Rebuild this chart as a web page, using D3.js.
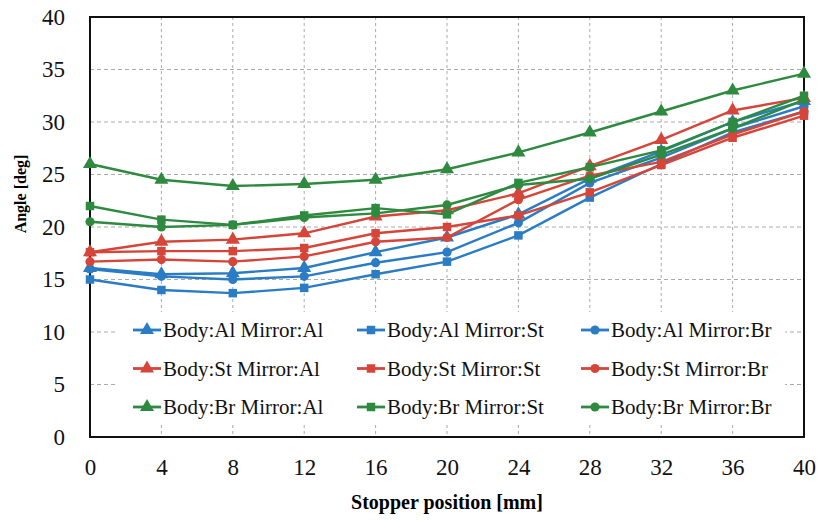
<!DOCTYPE html>
<html>
<head>
<meta charset="utf-8">
<script src="https://cdn.jsdelivr.net/npm/d3@7"></script>
<style>
  body { margin: 0; background: #fff; }
  text { font-family: "Liberation Serif", "Times New Roman", serif; }
</style>
</head>
<body>
<svg id="chart" width="819" height="522"></svg>
<script>
// stopper positions (mm)
var positions = [0, 4, 8, 12, 16, 20, 24, 28, 32, 36, 40];
var yTicks = [0, 5, 10, 15, 20, 25, 30, 35, 40];

// angle values (deg)
var alAl = [16.1, 15.5, 15.6, 16.1, 17.6, 19.0, 21.2, 24.6, 27.2, 30.0, 32.0];
var alSt = [15.0, 14.0, 13.7, 14.2, 15.5, 16.7, 19.2, 22.8, 26.0, 29.0, 31.0];
var alBr = [16.0, 15.3, 15.0, 15.3, 16.6, 17.6, 20.4, 24.2, 26.6, 29.4, 31.5];
var stAl = [17.6, 18.6, 18.8, 19.4, 21.0, 21.6, 23.2, 25.8, 28.3, 31.1, 32.3];
var stSt = [17.6, 17.7, 17.7, 18.0, 19.4, 20.0, 21.1, 23.3, 25.9, 28.5, 30.6];
var stBr = [16.7, 16.9, 16.7, 17.2, 18.6, 19.0, 22.6, 24.9, 26.2, 28.8, 31.0];
var brAl = [26.0, 24.5, 23.9, 24.1, 24.5, 25.5, 27.1, 29.0, 31.0, 33.0, 34.6];
var brSt = [22.0, 20.7, 20.2, 21.1, 21.8, 21.2, 24.2, 25.7, 27.3, 30.0, 32.5];
var brBr = [20.5, 20.0, 20.2, 20.9, 21.3, 22.1, 24.0, 24.6, 26.9, 29.4, 32.1];

var seriesNames = ["Body:Al Mirror:Al", "Body:Al Mirror:St", "Body:Al Mirror:Br",
                   "Body:St Mirror:Al", "Body:St Mirror:St", "Body:St Mirror:Br",
                   "Body:Br Mirror:Al", "Body:Br Mirror:St", "Body:Br Mirror:Br"];
var seriesValues = [alAl, alSt, alBr, stAl, stSt, stBr, brAl, brSt, brBr];

var colors = { Al: "#2a7cc4", St: "#d6453a", Br: "#2e8a3f" };
var shapes = { Al: d3.symbolTriangle, St: d3.symbolSquare, Br: d3.symbolCircle };
var symSize = { Al: 85, St: 72, Br: 66 };

var series = seriesNames.map(function(name, i) {
  var body = name.split(" ")[0].split(":")[1];
  var mirror = name.split(" ")[1].split(":")[1];
  return { name: name, body: body, mirror: mirror, values: seriesValues[i] };
});

var svg = d3.select("#chart");
var m = { left: 90, right: 15, top: 17, bottom: 85 };
var w = 819 - m.left - m.right, h = 522 - m.top - m.bottom;

var x = d3.scaleLinear().domain([0, 40]).range([m.left, m.left + w]);
var y = d3.scaleLinear().domain([0, 40]).range([m.top + h, m.top]);

// grid
var grid = svg.append("g");
grid.selectAll(".gx").data(positions.slice(1, -1)).enter().append("line")
  .attr("x1", function(d) { return x(d); }).attr("x2", function(d) { return x(d); })
  .attr("y1", y(40)).attr("y2", y(0))
  .style("stroke", "#aaa").style("stroke-width", 1).style("stroke-dasharray", "3,3");
grid.selectAll(".gy").data(yTicks.slice(1, -1)).enter().append("line")
  .attr("x1", x(0)).attr("x2", x(40))
  .attr("y1", function(d) { return y(d); }).attr("y2", function(d) { return y(d); })
  .style("stroke", "#aaa").style("stroke-width", 1).style("stroke-dasharray", "4,3");

// axes
var xAxis = svg.append("g").attr("transform", "translate(0," + y(0) + ")")
  .call(d3.axisBottom(x).tickValues(positions).tickSize(0).tickPadding(22));
var yAxis = svg.append("g").attr("transform", "translate(" + m.left + ",0)")
  .call(d3.axisLeft(y).tickValues(yTicks).tickSize(0).tickPadding(25));
[xAxis, yAxis].forEach(function(a) {
  a.select(".domain").remove();
  a.selectAll("text").style("font-family", "'Liberation Serif', serif")
    .style("font-size", "23px").style("fill", "#111");
});

// plot frame
svg.append("rect").attr("x", x(0)).attr("y", y(40)).attr("width", x(40) - x(0)).attr("height", y(0) - y(40))
  .style("fill", "none").style("stroke", "#111").style("stroke-width", 2);

// axis titles
svg.append("text").attr("x", x(20)).attr("y", 509).attr("text-anchor", "middle")
  .style("font-weight", "bold").style("font-size", "20px").text("Stopper position [mm]");
svg.append("text").attr("transform", "translate(26,194) rotate(-90)").attr("text-anchor", "middle")
  .style("font-weight", "bold").style("font-size", "16px").text("Angle [deg]");

// legend background (covers grid)
var legTop = 312, rowH = 38.5, colX = [133, 357, 581];
svg.append("rect").attr("x", 115).attr("y", legTop).attr("width", 670).attr("height", 112).style("fill", "#fff");

// lines + markers
var line = d3.line().x(function(d, i) { return x(positions[i]); }).y(function(d) { return y(d); });
var plot = svg.append("g");
series.forEach(function(s) {
  var g = plot.append("g");
  g.append("path").datum(s.values).attr("d", line)
    .style("fill", "none").style("stroke", colors[s.body]).style("stroke-width", 2.4);
  g.selectAll("path.mk").data(s.values).enter().append("path").attr("class", "mk")
    .attr("transform", function(d, i) { return "translate(" + x(positions[i]) + "," + y(d) + ")"; })
    .attr("d", d3.symbol().type(shapes[s.mirror]).size(symSize[s.mirror]))
    .style("fill", colors[s.body]);
});

// legend
series.forEach(function(s, i) {
  var cx = colX[i % 3], cy = legTop + 18 + Math.floor(i / 3) * rowH;
  var g = svg.append("g").attr("transform", "translate(" + cx + "," + cy + ")");
  g.append("line").attr("x1", 0).attr("x2", 28).attr("y1", 0).attr("y2", 0)
    .style("stroke", colors[s.body]).style("stroke-width", 2.8);
  g.append("path").attr("transform", "translate(14,0)")
    .attr("d", d3.symbol().type(shapes[s.mirror]).size(symSize[s.mirror]))
    .style("fill", colors[s.body]);
  g.append("text").attr("x", 30).attr("y", 7).style("font-size", "21px").style("fill", "#111").text(s.name);
});
</script>
</body>
</html>
